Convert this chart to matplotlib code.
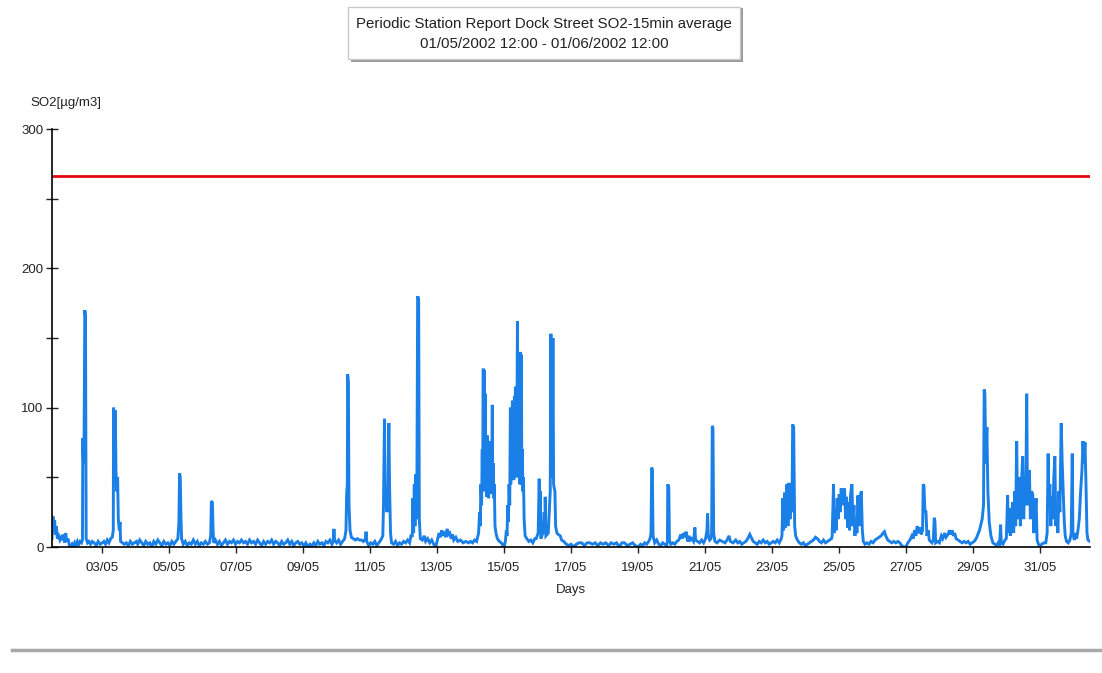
import pandas as pd
import matplotlib
matplotlib.use("Agg")
import matplotlib.pyplot as plt
import matplotlib.dates as mdates
from matplotlib.patches import Rectangle
from matplotlib.lines import Line2D

# (day of May as float, SO2 value), 15min averages
may01_04 = [(1.50, 6), (1.52, 22), (1.54, 21), (1.56, 12), (1.58, 19), (1.60, 9), (1.63, 15), (1.66, 6),
            (1.70, 8), (1.74, 5), (1.78, 7), (1.82, 5), (1.86, 9), (1.88, 3), (1.91, 10), (1.94, 4),
            (1.98, 6), (2.02, 1), (2.06, 0), (2.10, 2), (2.14, 0), (2.18, 3), (2.22, 1), (2.26, 4),
            (2.30, 2), (2.34, 4), (2.38, 3), (2.41, 5), (2.42, 78), (2.44, 60), (2.46, 82), (2.48, 170),
            (2.50, 165), (2.51, 80), (2.52, 6), (2.56, 3), (2.60, 4), (2.65, 2), (2.70, 4), (2.76, 3),
            (2.82, 1), (2.88, 4), (2.94, 2), (3.00, 3), (3.05, 4), (3.10, 2), (3.15, 5), (3.20, 3),
            (3.25, 6), (3.30, 7), (3.33, 12), (3.34, 100), (3.36, 70), (3.39, 98), (3.41, 55), (3.43, 40),
            (3.46, 50), (3.48, 20), (3.51, 12), (3.53, 18), (3.55, 4), (3.60, 3), (3.66, 2), (3.72, 3),
            (3.78, 1), (3.84, 4), (3.90, 2), (3.96, 3)]

may04_09 = [(4.02, 4), (4.06, 2), (4.12, 5), (4.18, 3), (4.24, 1), (4.30, 4), (4.36, 2), (4.42, 3),
            (4.48, 0), (4.54, 4), (4.60, 2), (4.66, 5), (4.72, 3), (4.78, 1), (4.84, 4), (4.90, 2),
            (4.96, 3), (5.02, 1), (5.08, 4), (5.14, 2), (5.20, 4), (5.26, 6), (5.29, 18), (5.31, 53),
            (5.33, 50), (5.35, 22), (5.37, 6), (5.42, 2), (5.48, 4), (5.54, 1), (5.60, 3), (5.66, 2),
            (5.72, 5), (5.78, 2), (5.84, 4), (5.90, 1), (5.96, 3), (6.02, 2), (6.08, 4), (6.14, 2),
            (6.20, 3), (6.24, 8), (6.26, 33), (6.29, 32), (6.31, 12), (6.33, 3), (6.38, 5), (6.44, 2),
            (6.50, 4), (6.56, 1), (6.62, 3), (6.68, 5), (6.74, 2), (6.80, 4), (6.86, 3), (6.92, 5),
            (6.98, 2), (7.04, 4), (7.10, 3), (7.16, 5), (7.22, 3), (7.28, 4), (7.34, 2), (7.40, 5),
            (7.46, 3), (7.52, 4), (7.58, 2), (7.64, 5), (7.70, 3), (7.76, 1), (7.82, 4), (7.88, 2),
            (7.94, 4), (8.00, 3), (8.06, 5), (8.12, 2), (8.18, 4), (8.24, 3), (8.30, 1), (8.36, 4),
            (8.42, 2), (8.48, 3), (8.54, 5), (8.60, 2), (8.66, 4), (8.72, 1), (8.78, 3), (8.84, 4),
            (8.90, 2), (8.96, 3)]

may09_13 = [(9.02, 1), (9.08, 3), (9.14, 0), (9.20, 2), (9.26, 1), (9.32, 3), (9.38, 1), (9.44, 4),
            (9.50, 2), (9.56, 3), (9.62, 1), (9.68, 4), (9.74, 3), (9.80, 5), (9.86, 2), (9.90, 4),
            (9.92, 13), (9.94, 5), (10.00, 3), (10.06, 5), (10.12, 2), (10.18, 4), (10.24, 6), (10.28, 12),
            (10.30, 38), (10.32, 45), (10.33, 124), (10.35, 118), (10.37, 30), (10.40, 12), (10.44, 7),
            (10.50, 6), (10.56, 5), (10.62, 6), (10.68, 5), (10.74, 5), (10.80, 4), (10.86, 6), (10.88, 11),
            (10.90, 4), (10.96, 1), (11.02, 3), (11.08, 2), (11.14, 4), (11.20, 1), (11.26, 3), (11.32, 5),
            (11.38, 8), (11.40, 30), (11.43, 92), (11.45, 30), (11.47, 40), (11.50, 25), (11.53, 35),
            (11.56, 89), (11.58, 45), (11.61, 10), (11.64, 3), (11.70, 2), (11.76, 4), (11.82, 1),
            (11.88, 3), (11.94, 2), (12.00, 4), (12.06, 3), (12.12, 5), (12.18, 3), (12.22, 8), (12.26, 8),
            (12.28, 35), (12.30, 10), (12.32, 45), (12.34, 15), (12.36, 52), (12.38, 20), (12.40, 55),
            (12.42, 180), (12.45, 178), (12.47, 20), (12.50, 6), (12.56, 5), (12.62, 8), (12.66, 4),
            (12.72, 6), (12.78, 3), (12.84, 5), (12.90, 2), (12.96, 0)]

may13_17 = [(13.02, 6), (13.06, 10), (13.10, 7), (13.14, 12), (13.18, 8), (13.22, 11), (13.26, 7),
            (13.30, 13), (13.34, 9), (13.38, 10), (13.42, 6), (13.46, 9), (13.50, 5), (13.56, 7), (13.62, 4),
            (13.70, 5), (13.78, 3), (13.86, 4), (13.94, 3), (14.00, 4), (14.06, 3), (14.12, 5), (14.18, 4),
            (14.24, 10), (14.27, 25), (14.29, 15), (14.31, 45), (14.33, 30), (14.35, 70), (14.36, 40),
            (14.38, 128), (14.39, 50), (14.41, 127), (14.42, 45), (14.44, 110), (14.45, 40), (14.47, 78),
            (14.48, 36), (14.50, 80), (14.51, 38), (14.53, 75), (14.54, 35), (14.56, 72), (14.57, 40),
            (14.59, 76), (14.60, 38), (14.62, 70), (14.63, 45), (14.65, 102), (14.66, 40), (14.68, 60),
            (14.69, 35), (14.71, 45), (14.73, 15), (14.76, 10), (14.80, 6), (14.86, 4), (14.92, 3),
            (14.97, 1), (15.00, 0), (15.04, 4), (15.07, 12), (15.09, 8), (15.11, 30), (15.13, 18),
            (15.15, 45), (15.17, 30), (15.19, 100), (15.20, 45), (15.22, 95), (15.23, 50), (15.25, 105),
            (15.26, 55), (15.28, 100), (15.29, 48), (15.31, 108), (15.32, 60), (15.34, 115), (15.35, 50),
            (15.37, 100), (15.38, 55), (15.40, 162), (15.41, 70), (15.43, 130), (15.44, 50), (15.46, 110),
            (15.47, 45), (15.49, 140), (15.50, 60), (15.52, 138), (15.53, 45), (15.55, 70), (15.56, 40),
            (15.58, 50), (15.60, 20), (15.63, 8), (15.68, 6), (15.74, 4), (15.80, 5), (15.86, 3),
            (15.92, 6), (15.96, 6), (16.02, 10), (16.05, 49), (16.07, 20), (16.08, 40), (16.10, 6),
            (16.16, 10), (16.20, 25), (16.22, 10), (16.23, 36), (16.25, 8), (16.32, 10), (16.36, 30),
            (16.38, 40), (16.40, 153), (16.41, 60), (16.43, 130), (16.44, 50), (16.46, 150), (16.48, 45),
            (16.50, 42), (16.52, 40), (16.54, 15), (16.58, 10), (16.62, 9), (16.68, 8), (16.72, 5),
            (16.78, 4), (16.86, 2), (16.94, 1)]

may17_22 = [(17.00, 2), (17.08, 0), (17.16, 2), (17.24, 3), (17.32, 3), (17.40, 1), (17.48, 3), (17.56, 3),
            (17.64, 2), (17.72, 3), (17.80, 1), (17.88, 3), (17.96, 2), (18.04, 3), (18.12, 1), (18.20, 3),
            (18.28, 2), (18.36, 3), (18.44, 0), (18.52, 3), (18.60, 3), (18.68, 1), (18.76, 2), (18.84, 3),
            (18.92, 1), (19.00, 0), (19.08, 2), (19.14, 1), (19.20, 3), (19.26, 2), (19.32, 4), (19.36, 6),
            (19.39, 10), (19.41, 57), (19.43, 55), (19.45, 8), (19.50, 3), (19.56, 5), (19.62, 2), (19.68, 1),
            (19.74, 3), (19.80, 2), (19.86, 1), (19.88, 4), (19.89, 45), (19.92, 43), (19.94, 5), (19.98, 2),
            (20.04, 3), (20.10, 2), (20.16, 4), (20.22, 5), (20.28, 9), (20.32, 6), (20.36, 10), (20.40, 7),
            (20.44, 11), (20.48, 4), (20.52, 8), (20.56, 5), (20.60, 6), (20.66, 4), (20.70, 14), (20.72, 5),
            (20.78, 4), (20.84, 3), (20.90, 5), (20.96, 3), (21.02, 6), (21.06, 12), (21.08, 24), (21.10, 8),
            (21.14, 5), (21.18, 6), (21.20, 10), (21.22, 87), (21.24, 85), (21.26, 10), (21.30, 4),
            (21.36, 3), (21.44, 5), (21.52, 4), (21.60, 3), (21.66, 5), (21.72, 8), (21.76, 4), (21.84, 3),
            (21.92, 5), (21.98, 3)]

may22_27 = [(22.04, 4), (22.10, 2), (22.16, 3), (22.22, 4), (22.28, 6), (22.34, 9), (22.38, 7), (22.44, 4),
            (22.50, 3), (22.56, 2), (22.62, 4), (22.68, 3), (22.74, 5), (22.80, 3), (22.86, 4), (22.92, 2),
            (22.98, 3), (23.04, 4), (23.10, 3), (23.16, 5), (23.22, 3), (23.28, 6), (23.30, 8), (23.33, 35),
            (23.35, 12), (23.38, 39), (23.40, 14), (23.43, 30), (23.45, 45), (23.48, 15), (23.51, 46),
            (23.54, 20), (23.57, 40), (23.60, 25), (23.62, 88), (23.65, 86), (23.68, 15), (23.71, 8),
            (23.76, 5), (23.82, 3), (23.88, 2), (23.94, 3), (24.00, 1), (24.06, 2), (24.12, 3), (24.18, 4),
            (24.24, 5), (24.30, 7), (24.36, 6), (24.42, 4), (24.48, 3), (24.54, 5), (24.60, 3), (24.66, 4),
            (24.72, 5), (24.78, 6), (24.80, 8), (24.84, 45), (24.86, 10), (24.89, 25), (24.92, 12),
            (24.95, 35), (24.98, 20), (25.01, 38), (25.04, 25), (25.07, 42), (25.10, 30), (25.13, 40),
            (25.17, 42), (25.20, 20), (25.23, 36), (25.26, 14), (25.29, 32), (25.32, 12), (25.35, 38),
            (25.39, 45), (25.42, 15), (25.45, 30), (25.48, 8), (25.51, 20), (25.54, 10), (25.57, 37),
            (25.60, 15), (25.63, 35), (25.67, 40), (25.70, 12), (25.73, 4), (25.78, 2), (25.84, 3),
            (25.90, 2), (25.96, 4), (26.02, 3), (26.08, 5), (26.14, 6), (26.20, 7), (26.26, 8), (26.32, 10),
            (26.36, 11), (26.40, 8), (26.46, 5), (26.52, 4), (26.58, 3), (26.64, 4), (26.70, 3), (26.76, 4),
            (26.82, 3), (26.88, 1), (26.94, 0)]

may27_32 = [(27.00, 0), (27.06, 3), (27.12, 5), (27.18, 8), (27.22, 6), (27.26, 12), (27.30, 8), (27.34, 15),
            (27.38, 10), (27.42, 14), (27.46, 9), (27.50, 12), (27.52, 45), (27.54, 44), (27.57, 25),
            (27.60, 26), (27.63, 8), (27.67, 12), (27.70, 5), (27.74, 4), (27.78, 3), (27.82, 5), (27.85, 21),
            (27.87, 18), (27.89, 3), (27.94, 4), (28.00, 3), (28.06, 8), (28.10, 6), (28.16, 10), (28.20, 7),
            (28.26, 9), (28.30, 12), (28.34, 9), (28.38, 12), (28.42, 8), (28.46, 10), (28.50, 6), (28.56, 5),
            (28.62, 4), (28.68, 3), (28.74, 4), (28.80, 3), (28.86, 4), (28.92, 2), (28.98, 3), (29.04, 4),
            (29.10, 6), (29.20, 12), (29.28, 20), (29.32, 30), (29.34, 113), (29.36, 110), (29.39, 60),
            (29.42, 86), (29.45, 40), (29.49, 18), (29.54, 8), (29.60, 3), (29.66, 2), (29.72, 1),
            (29.76, 3), (29.80, 2), (29.83, 16), (29.85, 3), (29.90, 2), (29.96, 5), (30.00, 6), (30.02, 20),
            (30.04, 37), (30.06, 10), (30.09, 28), (30.12, 8), (30.15, 20), (30.19, 32), (30.22, 10),
            (30.25, 40), (30.28, 15), (30.31, 76), (30.34, 20), (30.37, 50), (30.39, 46), (30.42, 15),
            (30.45, 45), (30.49, 65), (30.52, 20), (30.55, 50), (30.58, 30), (30.61, 110), (30.63, 40),
            (30.66, 30), (30.69, 55), (30.72, 20), (30.75, 40), (30.79, 38), (30.82, 10), (30.85, 20),
            (30.89, 35), (30.92, 5), (30.96, 2), (31.00, 1), (31.06, 2), (31.12, 3), (31.18, 3), (31.22, 10),
            (31.25, 67), (31.27, 30), (31.30, 45), (31.33, 15), (31.36, 36), (31.39, 20), (31.42, 50),
            (31.45, 65), (31.48, 15), (31.51, 30), (31.54, 10), (31.57, 40), (31.60, 25), (31.64, 89),
            (31.67, 60), (31.70, 40), (31.73, 19), (31.76, 8), (31.80, 4), (31.85, 3), (31.90, 5),
            (31.94, 10), (31.97, 67), (31.99, 10), (32.03, 5), (32.07, 10), (32.10, 6), (32.14, 12),
            (32.18, 20), (32.22, 40), (32.26, 55), (32.29, 76), (32.32, 60), (32.35, 75), (32.38, 45),
            (32.41, 10), (32.44, 5), (32.50, 4)]

limit_value = 266
period_start = "2002-05-01 12:00"
period_end = "2002-06-01 12:00"

title_lines = ["Periodic Station Report Dock Street SO2-15min average",
               "01/05/2002 12:00 - 01/06/2002 12:00"]

plt.rcParams["font.family"] = ["Liberation Sans", "DejaVu Sans"]

pts = may01_04 + may04_09 + may09_13 + may13_17 + may17_22 + may22_27 + may27_32
df = pd.DataFrame(pts, columns=["day", "so2"])
df["time"] = pd.Timestamp("2002-05-01") + pd.to_timedelta(df["day"] - 1, unit="D")

W, H = 1102, 673
fig = plt.figure(figsize=(W / 100, H / 100), dpi=100)
fig.patch.set_facecolor("white")

ax = fig.add_axes([52 / W, 1 - 547 / H, (1090 - 52) / W, (547 - 129) / H])
ax.plot(df["time"], df["so2"], color="#1a7fe6", lw=2.1, solid_joinstyle="miter")
ax.axhline(limit_value, color="#e30613", lw=2)

ax.set_xlim(pd.Timestamp(period_start), pd.Timestamp(period_end))
ax.set_ylim(0, 300)
ax.set_yticks([0, 100, 200, 300])
ax.set_yticks([50, 150, 250], minor=True)
ax.xaxis.set_major_locator(mdates.DayLocator(bymonthday=range(3, 32, 2)))
ax.xaxis.set_major_formatter(mdates.DateFormatter("%d/%m"))

for s in ["top", "right"]:
    ax.spines[s].set_visible(False)
for s in ["left", "bottom"]:
    ax.spines[s].set_linewidth(1.2)

ax.tick_params(axis="x", direction="out", length=4, width=1, labelsize=9.5, pad=7, colors="#222222")
ax.tick_params(axis="y", which="both", direction="inout", length=8, width=1, labelsize=9.5, pad=2,
               colors="#222222")
ax.set_xlabel("Days", fontsize=9.5, labelpad=7, color="#222222")

fig.text(30 / W, 1 - 103 / H, "SO2[µg/m3]", fontsize=9.5, va="center", ha="left", color="#222222")

# title box with shadow
fig.add_artist(Rectangle((351 / W, 1 - 62 / H), 392 / W, 54 / H, transform=fig.transFigure,
                         facecolor="#9a9a9a", edgecolor="none"))
fig.add_artist(Rectangle((348 / W, 1 - 59 / H), 392 / W, 52 / H, transform=fig.transFigure,
                         facecolor="white", edgecolor="#c8c8c8", lw=1))
fig.text(544 / W, 1 - 24 / H, title_lines[0], fontsize=10.8, ha="center", va="center", color="#222222")
fig.text(544 / W, 1 - 44 / H, title_lines[1], fontsize=10.8, ha="center", va="center", color="#222222")

fig.add_artist(Line2D([12 / W, 1.0], [1 - 650 / H, 1 - 650 / H], transform=fig.transFigure,
                      color="#a8a8a8", lw=2.5))

fig.savefig("out.png", dpi=100)
